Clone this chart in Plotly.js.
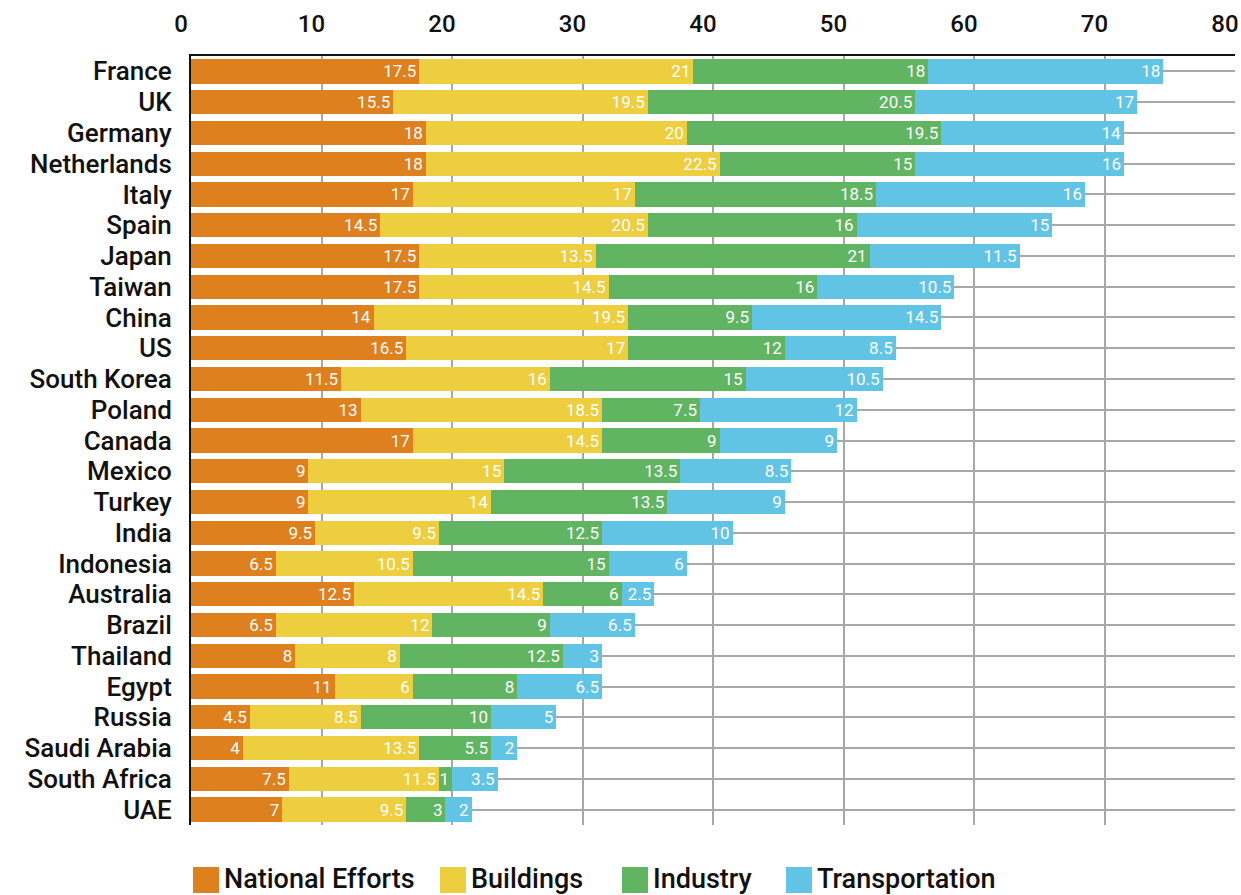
<!DOCTYPE html>
<html>
<head>
<meta charset="utf-8">
<script src="https://cdn.plot.ly/plotly-3.0.1.min.js"></script>
<style>
  html, body { margin: 0; padding: 0; background: #fff; }
  #chart { width: 1241px; height: 895px; }
</style>
</head>
<body>
<div id="chart"></div>
<script>
const countries = ["France","UK","Germany","Netherlands","Italy","Spain","Japan","Taiwan","China","US","South Korea","Poland","Canada","Mexico","Turkey","India","Indonesia","Australia","Brazil","Thailand","Egypt","Russia","Saudi Arabia","South Africa","UAE"];
const nationalEfforts = [17.5,15.5,18,18,17,14.5,17.5,17.5,14,16.5,11.5,13,17,9,9,9.5,6.5,12.5,6.5,8,11,4.5,4,7.5,7];
const buildings = [21,19.5,20,22.5,17,20.5,13.5,14.5,19.5,17,16,18.5,14.5,15,14,9.5,10.5,14.5,12,8,6,8.5,13.5,11.5,9.5];
const industry = [18,20.5,19.5,15,18.5,16,21,16,9.5,12,15,7.5,9,13.5,13.5,12.5,15,6,9,12.5,8,10,5.5,1,3];
const transportation = [18,17,14,16,16,15,11.5,10.5,14.5,8.5,10.5,12,9,8.5,9,10,6,2.5,6.5,3,6.5,5,2,3.5,2];
const seriesNames = ["National Efforts","Buildings","Industry","Transportation"];
const xTicks = [0,10,20,30,40,50,60,70,80];

const colors = ["#DE801E","#ECCE3E","#60B462","#62C4E4"];
const seriesValues = [nationalEfforts, buildings, industry, transportation];

const W = 1241, H = 895;
const M = {l: 191, r: 6, t: 56, b: 70};
const pw = W - M.l - M.r, ph = H - M.t - M.b;

const traces = seriesValues.map((vals, i) => ({
  type: 'bar',
  orientation: 'h',
  name: seriesNames[i],
  y: countries,
  x: vals,
  text: vals.map(v => String(v)),
  textposition: 'inside',
  insidetextanchor: 'end',
  textangle: 0,
  constraintext: 'none',
  cliponaxis: false,
  textfont: {family: 'Roboto', size: 17, color: '#ffffff', weight: 400},
  marker: {color: colors[i], line: {width: 0}},
  hoverinfo: 'x+y+name'
}));

// custom legend (shapes + annotations) built from series names
const legendPx = [193, 440, 622, 786];
const sq = 26, gap = 3;
const ly0 = 867, ly1 = 893;
const toPX = px => (px - M.l) / pw;
const toPY = py => (H - M.b - py) / ph;
const shapes = [];
const annotations = [];
seriesNames.forEach((n, i) => {
  shapes.push({type: 'rect', xref: 'paper', yref: 'paper',
    x0: toPX(legendPx[i]), x1: toPX(legendPx[i] + sq),
    y0: toPY(ly1), y1: toPY(ly0),
    fillcolor: colors[i], line: {width: 0}});
  annotations.push({xref: 'paper', yref: 'paper',
    x: toPX(legendPx[i] + sq + gap), y: toPY((ly0 + ly1) / 2 - 1),
    xanchor: 'left', yanchor: 'middle', showarrow: false,
    text: n, font: {family: 'Roboto', size: 27, color: '#111', weight: 500}});
});

const layout = {
  width: W, height: H,
  margin: M,
  paper_bgcolor: '#fff', plot_bgcolor: '#fff',
  barmode: 'stack',
  bargap: 0.21,
  showlegend: false,
  uniformtext: {mode: 'show', minsize: 17},
  xaxis: {
    side: 'top',
    range: [0, 80],
    tickvals: xTicks,
    ticktext: xTicks.map(String),
    ticks: '',
    ticklabelshift: -10,
    ticklabelstandoff: 12,
    tickfont: {family: 'Roboto', size: 24, color: '#111', weight: 500},
    showgrid: true, gridcolor: '#a8a8a8', gridwidth: 1.5,
    showline: true, linecolor: '#111', linewidth: 2,
    zeroline: false, fixedrange: true
  },
  yaxis: {
    autorange: 'reversed',
    categoryorder: 'array', categoryarray: countries,
    tickmode: 'array', tickvals: countries, ticktext: countries,
    ticks: '',
    ticklabelstandoff: 12,
    ticklabeloverflow: 'allow',
    tickfont: {family: 'Roboto', size: 26, color: '#111', weight: 500},
    showgrid: true, gridcolor: '#a8a8a8', gridwidth: 1.5,
    showline: true, linecolor: '#111', linewidth: 2,
    zeroline: false, fixedrange: true
  },
  shapes: shapes,
  annotations: annotations
};

Plotly.newPlot('chart', traces, layout, {displayModeBar: false, staticPlot: false});
</script>
</body>
</html>
